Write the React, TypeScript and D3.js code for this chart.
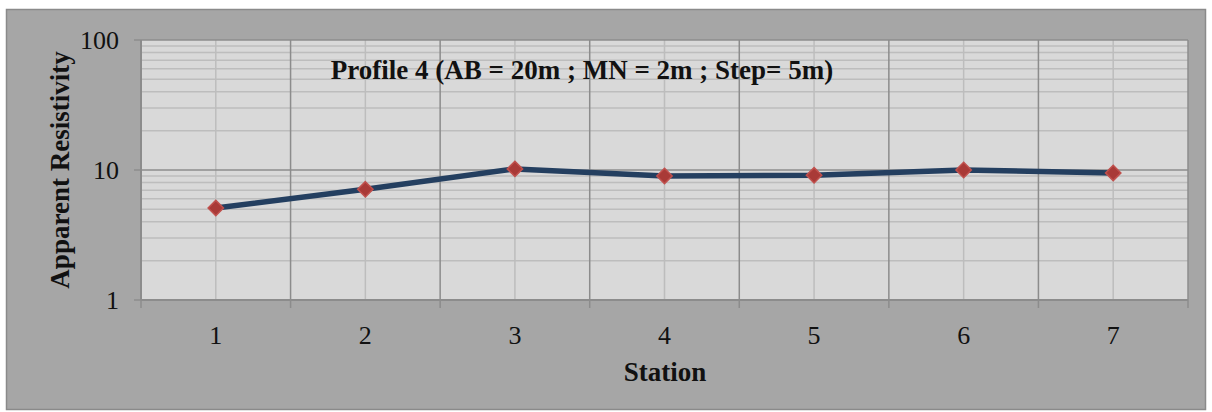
import React, { useEffect, useRef } from 'react';
import * as d3 from 'd3';

const stations = ['1', '2', '3', '4', '5', '6', '7'];
const resistivity = [5.1, 7.1, 10.2, 9.0, 9.1, 10.0, 9.5];
const yTicks = [1, 10, 100];
const chartTitle = 'Profile 4 (AB = 20m ; MN = 2m ; Step= 5m)';

const W = 1212, H = 412;
const margin = { top: 40, right: 24, bottom: 112, left: 141 };

export default function App() {
  const ref = useRef<SVGSVGElement>(null);

  useEffect(() => {
    const svg = d3.select(ref.current);
    svg.selectAll('*').remove();
    const font = '"Liberation Serif", "Times New Roman", serif';

    const x0 = margin.left, x1 = W - margin.right;
    const y0 = margin.top, y1 = H - margin.bottom;

    // outer frame
    svg.append('rect').attr('x', 6.5).attr('y', 9.5).attr('width', 1199).attr('height', 400)
      .attr('fill', '#a6a6a6').attr('stroke', '#8a8a8a').attr('stroke-width', 1.5);

    const x = d3.scaleBand().domain(stations).range([x0, x1]);
    const y = d3.scaleLog().domain([1, 100]).range([y1, y0]);

    svg.append('rect').attr('x', x0).attr('y', y0).attr('width', x1 - x0).attr('height', y1 - y0)
      .attr('fill', '#d9d9d9');

    // minor horizontal grid
    const minor: number[] = [];
    for (const d of [1, 10]) for (let k = 2; k <= 9; k++) minor.push(d * k);
    svg.append('g').selectAll('line').data(minor).join('line')
      .attr('x1', x0).attr('x2', x1).attr('y1', d => y(d)).attr('y2', d => y(d))
      .attr('stroke', '#bdbdbd').attr('stroke-width', 1.5);

    // minor vertical grid at category centers
    svg.append('g').selectAll('line').data(stations).join('line')
      .attr('x1', d => x(d)! + x.bandwidth() / 2).attr('x2', d => x(d)! + x.bandwidth() / 2)
      .attr('y1', y0).attr('y2', y1)
      .attr('stroke', '#bdbdbd').attr('stroke-width', 1.5);

    // major horizontal grid
    svg.append('g').selectAll('line').data(yTicks).join('line')
      .attr('x1', x0 - 7).attr('x2', x1).attr('y1', d => y(d)).attr('y2', d => y(d))
      .attr('stroke', '#8c8c8c').attr('stroke-width', 1.5);

    // major vertical grid at boundaries
    const bounds = stations.map(d => x(d)!).concat([x1]);
    svg.append('g').selectAll('line').data(bounds).join('line')
      .attr('x1', d => d).attr('x2', d => d).attr('y1', y0).attr('y2', y1 + 8)
      .attr('stroke', '#8c8c8c').attr('stroke-width', 1.5);

    // axes lines
    svg.append('line').attr('x1', x0).attr('x2', x0).attr('y1', y0).attr('y2', y1)
      .attr('stroke', '#8c8c8c').attr('stroke-width', 2);
    svg.append('line').attr('x1', x0).attr('x2', x1).attr('y1', y1).attr('y2', y1)
      .attr('stroke', '#8c8c8c').attr('stroke-width', 2);

    // y tick labels
    svg.append('g').selectAll('text').data(yTicks).join('text')
      .attr('x', 119).attr('y', d => y(d)).attr('dy', '0.35em')
      .attr('text-anchor', 'end').attr('font-family', font).attr('font-size', 26)
      .attr('fill', '#111').text(d => String(d));

    // x tick labels
    svg.append('g').selectAll('text').data(stations).join('text')
      .attr('x', d => x(d)! + x.bandwidth() / 2).attr('y', 335).attr('dy', '0.35em')
      .attr('text-anchor', 'middle').attr('font-family', font).attr('font-size', 26)
      .attr('fill', '#111').text(d => d);

    // axis titles
    svg.append('text').attr('x', 665).attr('y', 372).attr('dy', '0.35em')
      .attr('text-anchor', 'middle').attr('font-family', font).attr('font-size', 27)
      .attr('font-weight', 'bold').attr('fill', '#111').text('Station');
    svg.append('text').attr('transform', `translate(60, 170) rotate(-90)`).attr('dy', '0.35em')
      .attr('text-anchor', 'middle').attr('font-family', font).attr('font-size', 27)
      .attr('font-weight', 'bold').attr('fill', '#111').text('Apparent Resistivity');

    // chart title
    svg.append('text').attr('x', 582).attr('y', 70).attr('dy', '0.35em')
      .attr('text-anchor', 'middle').attr('font-family', font).attr('font-size', 27)
      .attr('font-weight', 'bold').attr('fill', '#111').text(chartTitle);

    // line
    const pts = stations.map((s, i) => [x(s)! + x.bandwidth() / 2, y(resistivity[i])] as [number, number]);
    svg.append('path').attr('d', d3.line()(pts)!)
      .attr('fill', 'none').attr('stroke', '#243f60').attr('stroke-width', 5.5)
      .attr('stroke-linejoin', 'round');

    // markers
    svg.append('g').selectAll('path').data(pts).join('path')
      .attr('transform', d => `translate(${d[0]},${d[1]})`)
      .attr('d', d3.symbol(d3.symbolDiamond2, 150)()!)
      .attr('fill', '#a93a37').attr('stroke', '#c0504d').attr('stroke-width', 1.5);
  }, []);

  return (
    <svg ref={ref} width={W} height={H}
      style={{ position: 'absolute', left: 0, top: 0, display: 'block' }} />
  );
}
